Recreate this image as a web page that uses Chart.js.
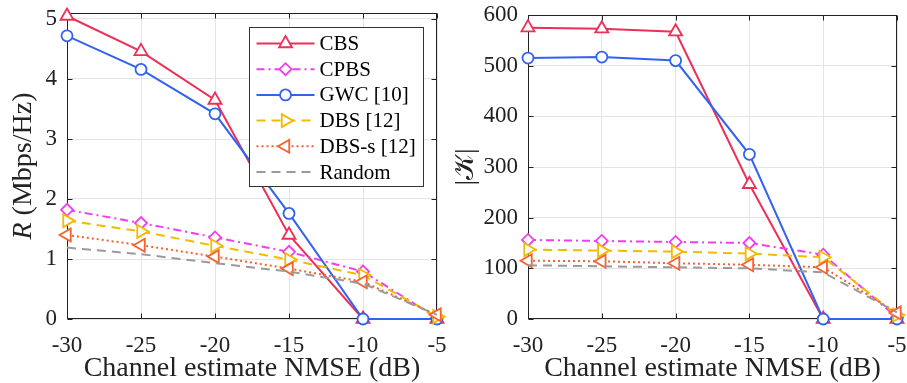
<!DOCTYPE html>
<html>
<head>
<meta charset="utf-8">
<script src="https://cdn.jsdelivr.net/npm/chart.js@4/dist/chart.umd.min.js"></script>
<style>
  html, body { margin: 0; padding: 0; background: #fff; }
  #wrap { position: relative; width: 907px; height: 383px; }
  .pane { position: absolute; top: 0; }
  #left { left: 0; }
  #right { left: 455px; }
</style>
</head>
<body>
<div id="wrap">
  <div class="pane" id="left"><canvas id="rateChart" width="455" height="383"></canvas></div>
  <div class="pane" id="right"><canvas id="sizeChart" width="452" height="383"></canvas></div>
</div>
<script>
const nmse = [-30, -25, -20, -15, -10, -5];
const rateTicks = [0, 1, 2, 3, 4, 5];
const sizeTicks = [0, 100, 200, 300, 400, 500, 600];

const names = ['CBS', 'CPBS', 'GWC [10]', 'DBS [12]', 'DBS-s [12]', 'Random'];

// sum rate R (Mbps/Hz)
const rateCBS    = [5.05, 4.46, 3.65, 1.40, 0, 0];
const rateCPBS   = [1.82, 1.60, 1.36, 1.12, 0.79, 0.02];
const rateGWC    = [4.72, 4.16, 3.42, 1.76, 0, 0];
const rateDBS    = [1.64, 1.46, 1.22, 0.99, 0.73, 0.04];
const rateDBSs   = [1.40, 1.23, 1.04, 0.84, 0.62, 0.07];
const rateRandom = [1.19, 1.08, 0.93, 0.79, 0.59, 0.07];

// number of served users |K|
const sizeCBS    = [575, 573, 567, 266, 0, 0];
const sizeCPBS   = [156, 154, 152, 150, 127, 3];
const sizeGWC    = [515, 517, 510, 325, 0, 0];
const sizeDBS    = [137, 135, 133, 129, 122, 8];
const sizeDBSs   = [115, 114, 110, 107, 102, 12];
const sizeRandom = [106, 104, 102, 100, 92, 13];

const serif = "'Liberation Serif', 'Times New Roman', serif";
const ink = '#222';

const styles = [
  { color: '#ee2f58', dash: [],           point: 'triangle', rot: 0,   r: 7.5 },
  { color: '#f23cf0', dash: [8, 4, 2, 4], point: 'rectRot',  rot: 0,   r: 6 },
  { color: '#3262f0', dash: [],           point: 'circle',   rot: 0,   r: 5.5 },
  { color: '#f2bb00', dash: [9, 6],       point: 'triangle', rot: 90,  r: 7.5 },
  { color: '#f5612f', dash: [2, 3],       point: 'triangle', rot: -90, r: 7.5 },
  { color: '#9a9a9a', dash: [9, 6],       point: false,      rot: 0,   r: 0 }
];

function makeSets(series) {
  return series.map((vals, i) => {
    const s = styles[i];
    return {
      label: names[i],
      data: vals.map((v, j) => ({ x: nmse[j], y: v })),
      borderColor: s.color,
      borderWidth: 2,
      borderDash: s.dash,
      pointStyle: s.point,
      pointRotation: s.rot,
      pointRadius: s.r,
      pointBorderWidth: 1.8,
      pointBorderColor: s.color,
      pointBackgroundColor: '#fff',
      tension: 0,
      clip: false,
      order: series.length - i
    };
  });
}

// fixed axis sizes, no extra room for overhanging labels
function fixSize(prop, size) {
  return s => {
    s[prop] = size;
    s.paddingTop = s.paddingBottom = s.paddingLeft = s.paddingRight = 0;
  };
}

// axes box with inward tick marks on all four sides
const frame = {
  id: 'frame',
  beforeDatasetsDraw(chart) {
    const { ctx, chartArea: a, scales: { x, y } } = chart;
    const L = Math.round(a.left) + 0.5, R = Math.round(a.right) - 0.5;
    const T = Math.round(a.top) + 0.5, B = Math.round(a.bottom) - 0.5;
    ctx.save();
    ctx.strokeStyle = ink;
    ctx.lineWidth = 1;
    ctx.strokeRect(L, T, R - L, B - T);
    ctx.beginPath();
    x.ticks.forEach(t => {
      const px = Math.round(x.getPixelForValue(t.value)) + 0.5;
      ctx.moveTo(px, B); ctx.lineTo(px, B - 5);
      ctx.moveTo(px, T); ctx.lineTo(px, T + 5);
    });
    y.ticks.forEach(t => {
      const py = Math.round(y.getPixelForValue(t.value)) + 0.5;
      ctx.moveTo(L, py); ctx.lineTo(L + 5, py);
      ctx.moveTo(R, py); ctx.lineTo(R - 5, py);
    });
    ctx.stroke();
    ctx.restore();
  }
};

// rotated y title made of plain and italic pieces
const yTitle = {
  id: 'yTitle',
  afterDraw(chart, args, opts) {
    if (!opts.parts) return;
    const { ctx, chartArea: a } = chart;
    ctx.save();
    ctx.translate(opts.x, (a.top + a.bottom) / 2);
    ctx.rotate(-Math.PI / 2);
    ctx.fillStyle = ink;
    ctx.textBaseline = 'middle';
    const fonts = opts.parts.map(p => (p.italic ? 'italic ' : '') + opts.size + 'px ' + serif);
    let total = 0;
    opts.parts.forEach((p, i) => { ctx.font = fonts[i]; total += ctx.measureText(p.text).width; });
    let cx = -total / 2;
    opts.parts.forEach((p, i) => {
      ctx.font = fonts[i];
      ctx.textAlign = 'left';
      ctx.fillText(p.text, cx, 0);
      cx += ctx.measureText(p.text).width;
    });
    ctx.restore();
  }
};

// boxed legend with line + marker samples
const boxLegend = {
  id: 'boxLegend',
  afterDraw(chart, args, opts) {
    if (!opts.show) return;
    const { ctx, chartArea: a } = chart;
    const left = Math.round(a.right - 188) + 0.5, top = Math.round(a.top + 14) + 0.5;
    const w = 174, h = 159;
    ctx.save();
    ctx.fillStyle = '#fff';
    ctx.fillRect(left, top, w, h);
    ctx.strokeStyle = '#333';
    ctx.lineWidth = 1;
    ctx.strokeRect(left, top, w, h);
    chart.data.datasets.forEach((ds, i) => {
      const yy = top + 16 + i * 25.7;
      ctx.save();
      ctx.strokeStyle = ds.borderColor;
      ctx.lineWidth = 2;
      ctx.setLineDash(ds.borderDash);
      ctx.beginPath();
      ctx.moveTo(left + 7, yy);
      ctx.lineTo(left + 65, yy);
      ctx.stroke();
      ctx.restore();
      if (ds.pointStyle) {
        ctx.save();
        ctx.strokeStyle = ds.borderColor;
        ctx.fillStyle = '#fff';
        ctx.lineWidth = ds.pointBorderWidth;
        Chart.helpers.drawPoint(ctx, { pointStyle: ds.pointStyle, rotation: ds.pointRotation, radius: ds.pointRadius, borderWidth: ds.pointBorderWidth }, left + 36, yy);
        ctx.restore();
      }
      ctx.fillStyle = '#000';
      ctx.font = '21px ' + serif;
      ctx.textAlign = 'left';
      ctx.textBaseline = 'middle';
      ctx.fillText(ds.label, left + 70, yy + 1);
    });
    ctx.restore();
  }
};

function makeOptions(yMax, yTicks, axisW, padTop, padRight, titleOpts, legendOn) {
  return {
    responsive: false,
    devicePixelRatio: 1,
    animation: false,
    events: [],
    layout: { padding: { top: padTop, right: padRight, left: 0, bottom: 0 } },
    plugins: {
      legend: { display: false },
      tooltip: { enabled: false },
      yTitle: titleOpts,
      boxLegend: { show: legendOn }
    },
    scales: {
      x: {
        type: 'linear',
        min: -30,
        max: -5,
        afterBuildTicks: s => { s.ticks = nmse.map(v => ({ value: v })); },
        afterFit: fixSize('height', 64),
        grid: { color: '#e4e4e4', drawTicks: false },
        border: { display: false },
        ticks: { padding: 13, color: ink, font: { family: serif, size: 23 }, callback: v => String(v) },
        title: { display: true, text: 'Channel estimate NMSE (dB)', color: ink, font: { family: serif, size: 28, lineHeight: 1 }, padding: { top: 0, bottom: 0 } }
      },
      y: {
        type: 'linear',
        min: 0,
        max: yMax,
        afterBuildTicks: s => { s.ticks = yTicks.map(v => ({ value: v })); },
        afterFit: fixSize('width', axisW),
        grid: { color: '#e4e4e4', drawTicks: false },
        border: { display: false },
        ticks: { padding: 10, color: ink, font: { family: serif, size: 23 }, callback: v => String(v) }
      }
    }
  };
}

new Chart(document.getElementById('rateChart'), {
  type: 'line',
  data: { datasets: makeSets([rateCBS, rateCPBS, rateGWC, rateDBS, rateDBSs, rateRandom]) },
  options: makeOptions(5.1, rateTicks, 67, 13, 18,
    { x: 24, size: 28, parts: [{ text: 'R', italic: true }, { text: ' (Mbps/Hz)' }] }, true),
  plugins: [frame, yTitle, boxLegend]
});

new Chart(document.getElementById('sizeChart'), {
  type: 'line',
  data: { datasets: makeSets([sizeCBS, sizeCPBS, sizeGWC, sizeDBS, sizeDBSs, sizeRandom]) },
  options: makeOptions(600, sizeTicks, 73, 15, 10,
    { x: 11, size: 28, parts: [{ text: '|𝒦|' }] }, false),
  plugins: [frame, yTitle, boxLegend]
});
</script>
</body>
</html>
